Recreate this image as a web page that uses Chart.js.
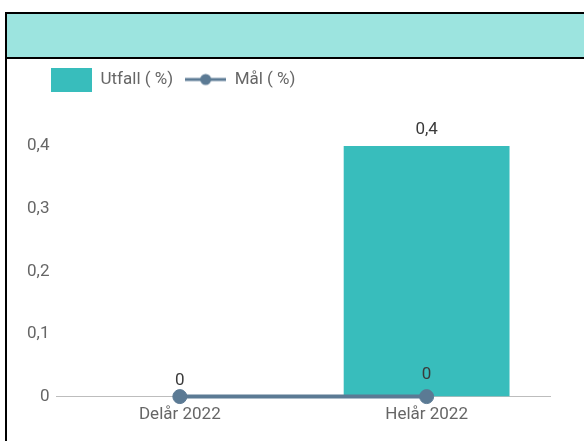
<!DOCTYPE html>
<html>
<head>
<meta charset="utf-8">
<script src="https://cdn.jsdelivr.net/npm/chart.js@4/dist/chart.umd.min.js"></script>
<style>
  html, body { margin: 0; padding: 0; background: #fff; width: 584px; height: 441px; overflow: hidden; }
  #frame { position: absolute; left: 5px; top: 12px; width: 640px; height: 500px; border: 2px solid #000; box-sizing: border-box; }
  #header { position: absolute; left: 0; top: 0; right: 0; height: 45px; background: #9ce4df; border-bottom: 2px solid #000; box-sizing: border-box; }
  #wrap { position: absolute; left: 7px; top: 59px; width: 577px; height: 382px; }
</style>
</head>
<body>
<div id="frame"><div id="header"></div></div>
<div id="wrap"><canvas id="c"></canvas></div>
<script>
const categories = ['Delår 2022', 'Helår 2022'];
const utfall = [0, 0.4];
const mal = [0, 0];
const seriesNames = ['Utfall ( %)', 'Mål ( %)'];
const yTickValues = [0, 0.1, 0.2, 0.3, 0.4];

const barColor = '#38bdbc';
const lineColor = '#5b7a94';
const fmt = v => String(Math.round(v * 10) / 10).replace('.', ',');

function makeBarIcon() {
  const c = document.createElement('canvas');
  c.width = 41; c.height = 24;
  const x = c.getContext('2d');
  x.fillStyle = barColor; x.fillRect(0, 0, 41, 24);
  return c;
}
function makeLineIcon() {
  const c = document.createElement('canvas');
  c.width = 41; c.height = 14;
  const x = c.getContext('2d');
  x.fillStyle = lineColor;
  x.fillRect(0, 5.5, 41, 3);
  x.beginPath(); x.arc(20.5, 7, 5.5, 0, Math.PI * 2); x.fill();
  return c;
}
const icons = [makeBarIcon(), makeLineIcon()];

const dataLabels = {
  id: 'dataLabels',
  afterDatasetsDraw(chart) {
    const ctx = chart.ctx;
    const boxes = [];
    ctx.save();
    ctx.font = '17px Roboto';
    ctx.fillStyle = '#3a3a3a';
    ctx.textAlign = 'center';
    ctx.textBaseline = 'middle';
    [0, 1].forEach(di => {
      const meta = chart.getDatasetMeta(di);
      const ds = chart.data.datasets[di];
      meta.data.forEach((el, i) => {
        const v = ds.data[i];
        if (v === null || v === undefined) return;
        const txt = fmt(v);
        const off = ds.type === 'bar' ? 16 : 22;
        const x = el.x, y = el.y - off;
        const w = ctx.measureText(txt).width, h = 15;
        const box = { l: x - w / 2, r: x + w / 2, t: y - h / 2, b: y + h / 2 };
        if (boxes.some(b => !(box.r < b.l || box.l > b.r || box.b < b.t || box.t > b.b))) return;
        boxes.push(box);
        ctx.fillText(txt, x, y);
      });
    });
    ctx.restore();
  }
};

const legendTweak = {
  id: 'legendTweak',
  beforeInit(chart) {
    const fit = chart.legend.fit;
    chart.legend.fit = function () { fit.call(this); this.height += 48; };
  },
  afterLayout(chart) {
    chart.legend.left += 19; chart.legend.right += 19;
  }
};

new Chart(document.getElementById('c'), {
  data: {
    labels: categories,
    datasets: [
      { type: 'bar', label: seriesNames[0], data: utfall, backgroundColor: barColor,
        barPercentage: 0.84, categoryPercentage: 0.8, order: 2, pointStyle: icons[0] },
      { type: 'line', label: seriesNames[1], data: mal, borderColor: lineColor, backgroundColor: lineColor,
        borderWidth: 4, pointRadius: 7, pointHoverRadius: 7, pointBorderWidth: 1, pointBackgroundColor: lineColor,
        pointBorderColor: lineColor, clip: false, order: 1, pointStyle: 'circle' }
    ]
  },
  options: {
    responsive: true,
    maintainAspectRatio: false,
    animation: false,
    layout: { padding: { left: 13, right: 34, top: 0, bottom: 8 } },
    plugins: {
      legend: {
        position: 'top', align: 'start',
        labels: {
          usePointStyle: true, pointStyleWidth: 41, boxHeight: 17,
          padding: 12, color: '#666', font: { family: 'Roboto', size: 17 },
          generateLabels(chart) {
            return chart.data.datasets.map((ds, i) => ({
              text: ds.label, pointStyle: icons[i], fillStyle: 'transparent',
              strokeStyle: 'transparent', lineWidth: 0, datasetIndex: i, hidden: false, fontColor: '#666'
            }));
          }
        }
      },
      tooltip: { enabled: false }
    },
    scales: {
      x: {
        grid: { display: false, drawTicks: false },
        border: { display: true, color: '#bdbdbd', width: 1 },
        ticks: { color: '#666', font: { family: 'Roboto', size: 17 }, padding: 8 }
      },
      y: {
        min: 0, max: 0.4,
        afterBuildTicks(axis) { axis.ticks = yTickValues.map(v => ({ value: v })); },
        grid: { display: false, drawTicks: false },
        border: { display: false },
        ticks: { color: '#666', font: { family: 'Roboto', size: 17 }, padding: 7, callback: v => fmt(v) }
      }
    }
  },
  plugins: [dataLabels, legendTweak]
});
</script>
</body>
</html>
